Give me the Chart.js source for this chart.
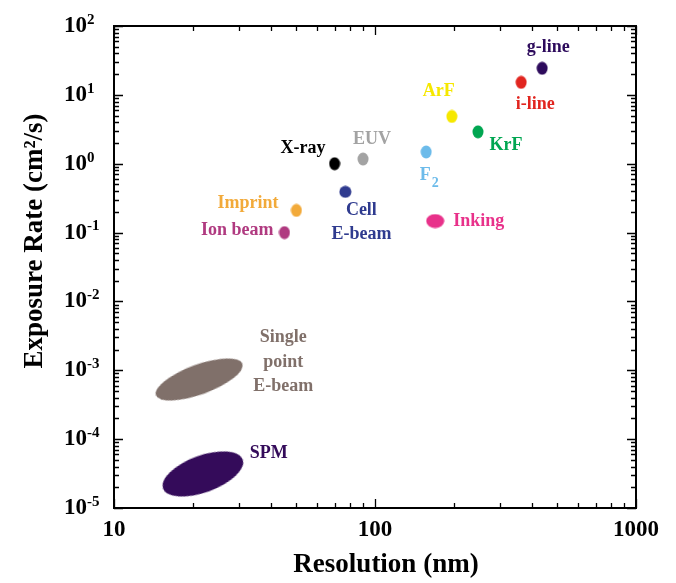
<!DOCTYPE html>
<html>
<head>
<meta charset="utf-8">
<script src="https://cdn.jsdelivr.net/npm/chart.js@4.4.1/dist/chart.umd.min.js"></script>
<style>
  html, body { margin: 0; padding: 0; background: #fff; }
  canvas { display: block; }
</style>
</head>
<body>
<canvas id="chart" width="676" height="583"></canvas>
<script>
// lithography techniques: resolution vs exposure rate
const techniques = ["X-ray", "EUV", "Cell E-beam", "Imprint", "Ion beam", "F2", "ArF", "KrF",
  "i-line", "g-line", "Inking", "Single point E-beam", "SPM"];
const labelText = ["X-ray", "EUV", "Cell\nE-beam", "Imprint", "Ion beam", "F_2", "ArF", "KrF",
  "i-line", "g-line", "Inking", "Single\npoint\nE-beam", "SPM"];
const resolutionNm = [70, 90, 77, 50, 45, 157, 197, 248, 363, 437, 170, 21.2, 21.9];
const exposureRate = [1.0, 1.17, 0.39, 0.21, 0.1, 1.48, 4.85, 2.9, 15.2, 24.3, 0.147, 7.35e-4, 3.12e-5];

// axis ticks
const xDecades = [10, 100, 1000];
const yExponents = [-5, -4, -3, -2, -1, 0, 1, 2];
const minorSteps = [2, 3, 4, 5, 6, 7, 8, 9];

// styles
const colors = ["#000000", "#a3a3a3", "#2f3b8f", "#f2aa3a", "#b03a80", "#6cbbea", "#f6e800",
  "#00a651", "#e1251f", "#2d0b5c", "#e8318a", "#80706a", "#340b5a"];
const markerSize = [[12,14],[12,14],[13,13],[12,14],[12,14],[12,14],[12,14],[12,14],[12,14],[12,14],[19,15],[93,31],[86,38]];
const markerRotation = [0,0,0,0,0,0,0,0,0,0,0,-20,-20];
const labelPos = {
  "X-ray": {dx: -9, dy: -15, align: "right"},
  "EUV": {dx: 9, dy: -20, align: "center"},
  "Cell E-beam": {dx: 16, dy: 18, align: "center"},
  "Imprint": {dx: -18, dy: -7, align: "right"},
  "Ion beam": {dx: -11, dy: -2, align: "right"},
  "F2": {dx: -1, dy: 23, align: "center"},
  "ArF": {dx: -13, dy: -25, align: "center"},
  "KrF": {dx: 28, dy: 13, align: "center"},
  "i-line": {dx: 14, dy: 22, align: "center"},
  "g-line": {dx: 6, dy: -21, align: "center"},
  "Inking": {dx: 18, dy: 0, align: "left"},
  "Single point E-beam": {dx: 84, dy: -42, align: "center"},
  "SPM": {dx: 66, dy: -21, align: "center"}
};
const FONT = "'Liberation Serif', 'Times New Roman', serif";
const lineGap = 24.5;

function ellipseImage(w, h, color){
  const c = document.createElement("canvas");
  c.width = w; c.height = h;
  const g = c.getContext("2d");
  g.fillStyle = color;
  g.beginPath();
  g.ellipse(w/2, h/2, w/2 - 0.5, h/2 - 0.5, 0, 0, 2*Math.PI);
  g.fill();
  return c;
}

function tickList(values){
  const out = [];
  values.forEach((v, i) => {
    out.push({value: v, major: true});
    if(i < values.length - 1) minorSteps.forEach(m => out.push({value: v*m, major: false}));
  });
  return out;
}

const datasets = techniques.map((name, i) => ({
  label: name,
  data: [{x: resolutionNm[i], y: exposureRate[i]}],
  pointStyle: ellipseImage(markerSize[i][0], markerSize[i][1], colors[i]),
  rotation: markerRotation[i],
  pointRadius: 10
}));

function drawLabel(ctx, text, x, y, align){
  // handles "F_2" style subscripts
  if(text.includes("_")){
    const [base, sub] = text.split("_");
    ctx.font = "bold 18px " + FONT;
    ctx.textAlign = "center";
    ctx.fillText(base, x, y);
    const bw = ctx.measureText(base).width;
    ctx.font = "bold 14px " + FONT;
    ctx.textAlign = "left";
    ctx.fillText(sub, x + bw/2 + 1, y + 8);
    return;
  }
  ctx.font = "bold 18px " + FONT;
  ctx.textAlign = align;
  ctx.fillText(text, x, y);
}

const decorPlugin = {
  id: "decor",
  afterDraw(chart){
    const ctx = chart.ctx;
    const a = chart.chartArea;
    const xs = chart.scales.x, ys = chart.scales.y;
    ctx.save();
    // frame
    ctx.strokeStyle = "#000";
    ctx.lineWidth = 2;
    ctx.strokeRect(a.left, a.top, a.right - a.left, a.bottom - a.top);
    // inside ticks on all four sides
    ctx.lineWidth = 1.3;
    ctx.beginPath();
    xs.ticks.forEach(t => {
      const px = Math.round(xs.getPixelForValue(t.value)) + 0.5;
      const len = t.major ? 9 : 5;
      ctx.moveTo(px, a.bottom); ctx.lineTo(px, a.bottom - len);
      ctx.moveTo(px, a.top); ctx.lineTo(px, a.top + len);
    });
    ys.ticks.forEach(t => {
      const py = Math.round(ys.getPixelForValue(t.value)) + 0.5;
      const len = t.major ? 9 : 5;
      ctx.moveTo(a.left, py); ctx.lineTo(a.left + len, py);
      ctx.moveTo(a.right, py); ctx.lineTo(a.right - len, py);
    });
    ctx.stroke();

    // tick labels
    ctx.fillStyle = "#000";
    ctx.textBaseline = "middle";
    ctx.font = "bold 23px " + FONT;
    ctx.textAlign = "center";
    xDecades.forEach(v => {
      ctx.fillText(String(v), xs.getPixelForValue(v), a.bottom + 22);
    });
    yExponents.forEach(e => {
      const py = ys.getPixelForValue(Math.pow(10, e));
      ctx.font = "bold 23px " + FONT;
      ctx.textAlign = "left";
      ctx.fillText("10", 64, py);
      const w = ctx.measureText("10").width;
      ctx.font = "bold 15px " + FONT;
      ctx.fillText(String(e), 64 + w, py - 6);
    });

    // axis titles
    ctx.font = "bold 27px " + FONT;
    ctx.textAlign = "center";
    ctx.fillText("Resolution (nm)", 386, a.bottom + 57);
    ctx.save();
    ctx.translate(35, 241);
    ctx.rotate(-Math.PI/2);
    ctx.fillText("Exposure Rate (cm\u00B2/s)", 0, 0);
    ctx.restore();

    // point labels
    techniques.forEach((name, i) => {
      const pt = chart.getDatasetMeta(i).data[0];
      const p = labelPos[name];
      ctx.fillStyle = colors[i];
      labelText[i].split("\n").forEach((line, k) => {
        drawLabel(ctx, line, pt.x + p.dx, pt.y + p.dy + k*lineGap, p.align);
      });
    });
    ctx.restore();
  }
};

new Chart(document.getElementById("chart").getContext("2d"), {
  type: "scatter",
  data: { datasets },
  options: {
    responsive: false,
    animation: false,
    events: [],
    layout: { padding: { top: 26, right: 40, left: 0, bottom: 0 } },
    plugins: { legend: { display: false }, tooltip: { enabled: false } },
    scales: {
      x: {
        type: "logarithmic", min: 10, max: 1000,
        grid: { display: false }, border: { display: false },
        ticks: { display: false },
        afterBuildTicks: s => { s.ticks = tickList(xDecades); },
        afterFit: s => { s.height = 75; }
      },
      y: {
        type: "logarithmic", min: 1e-5, max: 100,
        grid: { display: false }, border: { display: false },
        ticks: { display: false },
        afterBuildTicks: s => { s.ticks = tickList(yExponents.map(e => Math.pow(10, e))); },
        afterFit: s => { s.width = 114; }
      }
    }
  },
  plugins: [decorPlugin]
});
</script>
</body>
</html>
